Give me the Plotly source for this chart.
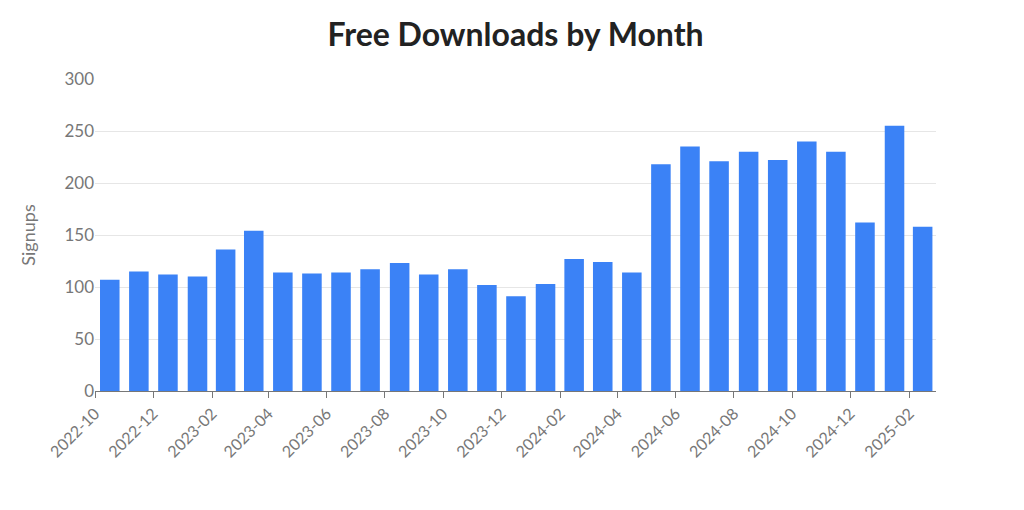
import plotly.graph_objects as go

# monthly free downloads (signups)
months = ['2022-10', '2022-11', '2022-12', '2023-01', '2023-02', '2023-03',
          '2023-04', '2023-05', '2023-06', '2023-07', '2023-08', '2023-09',
          '2023-10', '2023-11', '2023-12', '2024-01', '2024-02', '2024-03',
          '2024-04', '2024-05', '2024-06', '2024-07', '2024-08', '2024-09',
          '2024-10', '2024-11', '2024-12', '2025-01', '2025-02']
signups = [107, 115, 112, 110, 136, 154,
           114, 113, 114, 117, 123, 112,
           117, 102, 91, 103, 127, 124,
           114, 218, 235, 221, 230, 222,
           240, 230, 162, 255, 158]
y_ticks = [0, 50, 100, 150, 200, 250, 300]

DAY_MS = 86400000
grey = '#777777'

bars = go.Bar(
    x=[m + '-01' for m in months],
    y=signups,
    xperiod='M1',
    xperiodalignment='middle',
    width=20.5 * DAY_MS,
    marker=dict(color='#3b82f6', line=dict(width=0)),
    name='Signups',
)

fig = go.Figure(data=[bars])

# page body adds an 8px margin, so margins are shifted by 8
fig.update_layout(
    width=1024,
    height=510,
    paper_bgcolor='white',
    plot_bgcolor='white',
    font=dict(family='Lato, Open Sans, sans-serif', color=grey, size=16),
    title=dict(
        text='<b>Free Downloads by Month</b>',
        x=0.5, xref='paper', xanchor='center',
        y=0.947, yref='container', yanchor='middle',
        font=dict(size=32, color='#222222', family='Lato, Open Sans, sans-serif'),
    ),
    margin=dict(l=87, r=96, t=71, b=127),
    showlegend=False,
    xaxis=dict(
        type='date',
        range=['2022-10-01', '2025-03-01'],
        dtick='M2',
        tick0='2022-10-01',
        tickformat='%Y-%m',
        tickangle=-45,
        ticks='outside',
        ticklen=6,
        tickcolor=grey,
        showline=True,
        linecolor=grey,
        linewidth=1,
        showgrid=False,
        tickfont=dict(size=16, color=grey),
    ),
    yaxis=dict(
        range=[0, 300],
        tickvals=y_ticks,
        showgrid=True,
        gridcolor='#e6e6e6',
        zeroline=False,
        showline=False,
        ticks='',
        tickfont=dict(size=17, color=grey),
        title=dict(text='Signups', font=dict(size=18, color=grey), standoff=24),
    ),
)

fig.write_html("out.html")
